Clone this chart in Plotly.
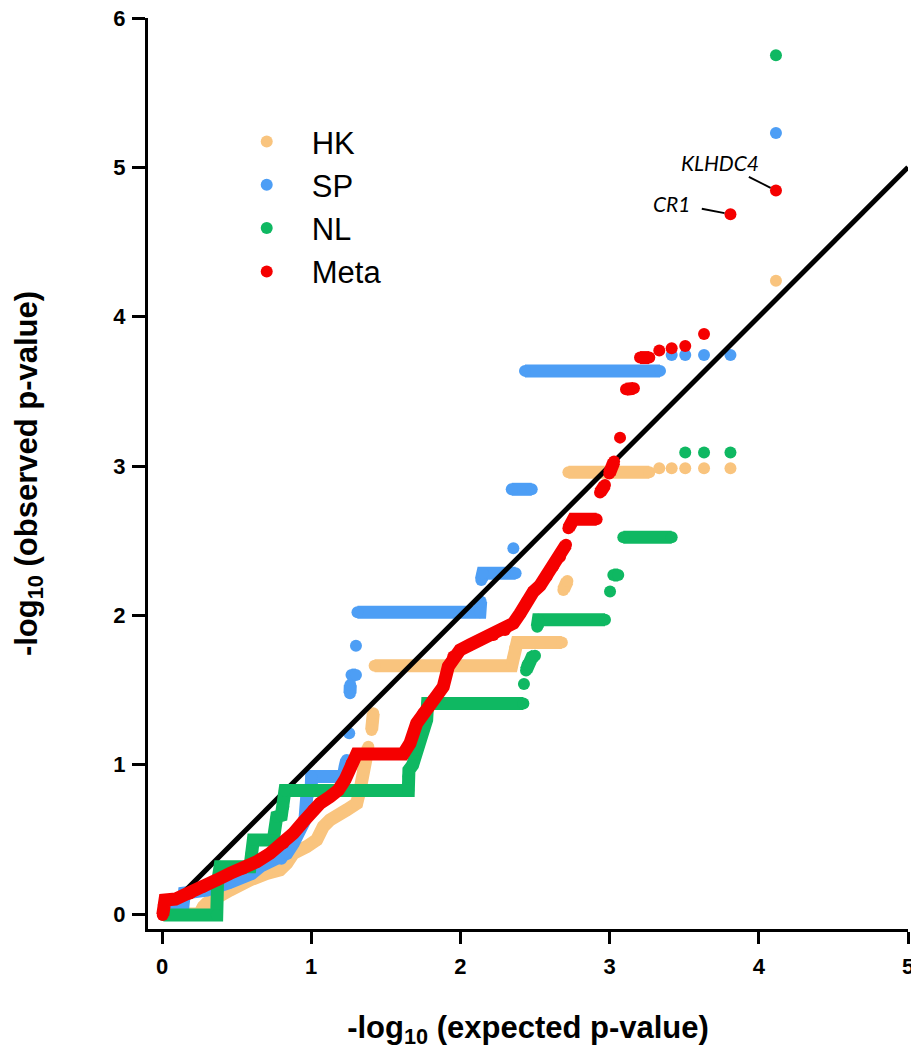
import plotly.graph_objects as go

N = None
# ---------------- data ----------------
# HK (orange)
hk_x = [0.01, 0.25, 0.277, 0.30, 0.456, 0.523, 0.59, 0.702, 0.791, 0.836, 0.88, 0.97, 1.037, 1.081, 1.126,
        1.238, 1.305, 1.327, 1.349, 1.372, 1.383, N,
        1.405, 1.416, N,
        1.425, 2.344, 2.355, 2.366, 2.38, 2.68, N,
        2.69, 2.717, N,
        2.724, 3.266, N,
        3.333, N, 3.416, N, 3.507, N, 3.633, N, 3.81, N, 4.115]
hk_y = [0.0, 0.0, 0.049, 0.072, 0.16, 0.205, 0.228, 0.272, 0.295, 0.339, 0.406, 0.451, 0.496, 0.585, 0.63,
        0.697, 0.741, 0.83, 0.964, 1.07, 1.12, N,
        1.232, 1.344, N,
        1.663, 1.663, 1.712, 1.779, 1.818, 1.818, N,
        2.17, 2.23, N,
        2.958, 2.958, N,
        2.985, N, 2.985, N, 2.985, N, 2.985, N, 2.985, N, 4.24]

# SP (blue)
sp_x = [0.01, 0.12, 0.14, 0.15, 0.30, 0.45, 0.60, 0.66, 0.80, 0.836, 0.88, 0.925, 0.958, 0.97, 1.0, 1.003,
        1.215, 1.227, 1.238, N,
        1.255, N, 1.26, 1.262, N, 1.27, 1.30, N, 1.30, N,
        1.31, 2.131, 2.136, N,
        2.14, 2.15, 2.37, N,
        2.355, N,
        2.344, 2.478, N,
        2.433, 3.338, N,
        3.416, N, 3.507, N, 3.633, N, 3.81, N, 4.115]
sp_y = [0.0, 0.03, 0.05, 0.14, 0.16, 0.21, 0.27, 0.32, 0.37, 0.406, 0.473, 0.563, 0.63, 0.786, 0.85, 0.92,
        0.92, 0.986, 1.031, N,
        1.21, N, 1.478, 1.534, N, 1.60, 1.60, N, 1.797, N,
        2.02, 2.02, 2.092, N,
        2.237, 2.282, 2.282, N,
        2.449, N,
        2.844, 2.844, N,
        3.637, 3.637, N,
        3.744, N, 3.744, N, 3.744, N, 3.744, N, 5.23]

# NL (green)
nl_x = [0.009, 0.367, 0.372, 0.389, 0.59, 0.60, 0.612, 0.746, 0.769, 0.80, 0.813, 0.824, 1.651, 1.651, 1.655,
        1.68, 1.707, 1.729, 1.751, 1.774, 1.78, 2.422, N,
        2.426, N,
        2.44, 2.45, 2.48, 2.50, N,
        2.515, 2.522, 2.969, N,
        3.003, N,
        3.025, 3.058, N,
        3.092, 3.416, N,
        3.507, N, 3.633, N, 3.81, N, 4.115]
nl_y = [-0.007, -0.007, 0.205, 0.317, 0.317, 0.406, 0.496, 0.496, 0.651, 0.66, 0.718, 0.827, 0.827, 0.92, 0.964,
        0.998, 1.098, 1.165, 1.232, 1.30, 1.41, 1.41, N,
        1.54, N,
        1.63, 1.67, 1.72, 1.73, N,
        1.924, 1.97, 1.97, N,
        2.159, N,
        2.27, 2.27, N,
        2.523, 2.523, N,
        3.09, N, 3.09, N, 3.09, N, 5.75]

# Meta (red)
meta_x = [0.005, 0.012, 0.02, 0.09, 0.188, 0.277, 0.367, 0.456, 0.545, 0.635, 0.724, 0.813, 0.88, 0.947, 1.014,
          1.059, 1.126, 1.182, 1.227, 1.271, 1.305, 1.617, 1.662, 1.707, 1.751, 1.818, 1.885, 1.919, 1.952,
          1.997, 2.064, 2.131, 2.221, 2.299, 2.355, 2.40, 2.444, 2.489, 2.534, 2.578, 2.623, 2.668, 2.708, N,
          2.724, 2.757, 2.913, N,
          2.936, 2.969, N,
          2.998, 3.03, N,
          3.07, N,
          3.11, 3.163, N,
          3.204, 3.266, N,
          3.333, N, 3.416, N, 3.507, N, 3.633, N, 3.81, N, 4.115]
meta_y = [-0.007, 0.06, 0.094, 0.10, 0.138, 0.183, 0.228, 0.272, 0.305, 0.35, 0.406, 0.473, 0.54, 0.618, 0.697,
          0.741, 0.786, 0.83, 0.90, 1.009, 1.072, 1.072, 1.143, 1.277, 1.344, 1.433, 1.522, 1.657, 1.724,
          1.768, 1.802, 1.835, 1.869, 1.902, 1.947, 2.013, 2.09, 2.159, 2.20, 2.26, 2.33, 2.393, 2.472, N,
          2.583, 2.643, 2.643, N,
          2.822, 2.873, N,
          2.95, 3.03, N,
          3.19, N,
          3.514, 3.52, N,
          3.726, 3.726, N,
          3.773, N, 3.789, N, 3.804, N, 3.884, N, 4.686, N, 4.845]

diag_x = [0.15, 5.0]
diag_y = [0.15, 5.0]

series_names = ["HK", "SP", "NL", "Meta"]
series_colors = ["#F9C47E", "#4D9EF5", "#0FB862", "#F50000"]

x_ticks = [0, 1, 2, 3, 4, 5]
y_ticks = [0, 1, 2, 3, 4, 5, 6]

labels = ["KLHDC4", "CR1"]
label_x = [4.115, 3.81]
label_y = [4.845, 4.686]

# ---------------- figure ----------------
DOT = 12
fig = go.Figure()

def add_series(xs, ys, color):
    fig.add_trace(go.Scatter(
        x=xs, y=ys, mode="lines+markers", showlegend=False, hoverinfo="skip",
        line=dict(color=color, width=DOT + 1), connectgaps=False,
        marker=dict(color=color, size=DOT, line=dict(width=0))))

add_series(hk_x, hk_y, series_colors[0])
add_series(sp_x, sp_y, series_colors[1])
fig.add_trace(go.Scatter(x=diag_x, y=diag_y, mode="lines", showlegend=False,
                         line=dict(color="black", width=5), hoverinfo="skip"))
add_series(nl_x, nl_y, series_colors[2])
add_series(meta_x, meta_y, series_colors[3])

for i, (nm, col) in enumerate(zip(series_names, series_colors)):
    fig.add_trace(go.Scatter(x=[None], y=[None], mode="markers", name=nm,
                             legendgroup=nm, marker=dict(color=col, size=13)))

offsets = [(-56, -28, 1), (-58, -11, 9)]
for t, lx, ly, (ax, ay, ss) in zip(labels, label_x, label_y, offsets):
    fig.add_annotation(x=lx, y=ly, text="<i>" + t + "</i>", showarrow=True,
                       ax=ax, ay=ay, arrowhead=0, arrowwidth=2, arrowcolor="black",
                       standoff=6, startstandoff=ss,
                       font=dict(family="Lato, Open Sans, sans-serif", size=21, color="black"))

bold_font = "Liberation Sans, Arial, sans-serif"
# the page body adds an 8 px margin, so the figure is 8 px smaller than the window
fig.update_layout(
    width=911, height=1044,
    margin=dict(l=140, r=11, t=10, b=123),
    paper_bgcolor="white", plot_bgcolor="white",
    showlegend=True,
    legend=dict(x=0.097, y=0.8937, xanchor="left", yanchor="top",
                font=dict(family="Liberation Sans, Arial, sans-serif", size=31, color="black"),
                traceorder="grouped", tracegroupgap=0, bgcolor="rgba(0,0,0,0)",
                itemsizing="constant", itemwidth=80),
    xaxis=dict(range=[-0.0938, 5.0], tickvals=x_ticks, ticktext=[str(v) for v in x_ticks],
               automargin=False, ticklabeloverflow="allow",
               showgrid=False, zeroline=False, showline=True, linecolor="black", linewidth=3,
               ticks="outside", ticklen=12, tickwidth=3, tickcolor="black", ticklabelstandoff=4,
               tickfont=dict(family=bold_font, size=22, color="black", weight="bold"),
               title=dict(text="-log<sub>10</sub> (expected p-value)", standoff=38,
                          font=dict(family=bold_font, size=31, color="black", weight="bold"))),
    yaxis=dict(range=[-0.1004, 6.0], tickvals=y_ticks, ticktext=[str(v) for v in y_ticks],
               automargin=False, ticklabeloverflow="allow",
               showgrid=False, zeroline=False, showline=True, linecolor="black", linewidth=3,
               ticks="outside", ticklen=13, tickwidth=3, tickcolor="black", ticklabelstandoff=2,
               tickfont=dict(family=bold_font, size=22, color="black", weight="bold"),
               title=dict(text="-log<sub>10</sub> (observed p-value)", standoff=67,
                          font=dict(family=bold_font, size=31, color="black", weight="bold"))),
)

fig.write_html("out.html")
